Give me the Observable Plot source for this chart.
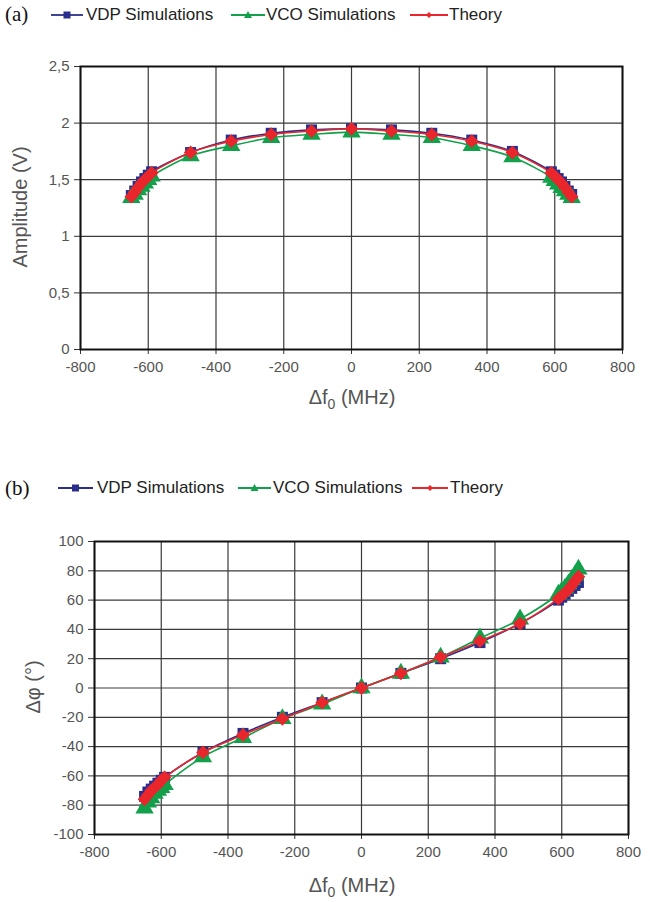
<!DOCTYPE html>
<html>
<head>
<meta charset="utf-8">
<script src="https://cdn.jsdelivr.net/npm/d3@7"></script>
<script src="https://cdn.jsdelivr.net/npm/@observablehq/plot@0.6"></script>
<style>
  html, body { margin: 0; padding: 0; background: #fff; }
  #page { position: relative; width: 650px; height: 902px; overflow: hidden; font-family: "Liberation Sans", Arial, sans-serif; }
  .panel { position: absolute; left: 0; font-family: "Liberation Serif", "Times New Roman", serif; font-size: 21px; color: #111; }
  .leg { position: absolute; font-size: 17px; color: #222; white-space: nowrap; line-height: 20px; }
  .sw { position: absolute; }
  .chart { position: absolute; left: 0; }
</style>
</head>
<body>
<div id="page"></div>
<script>
// ---------- data ----------
const seriesNames = ["VDP Simulations", "VCO Simulations", "Theory"];
const deltaF = [-650, -640, -630, -620, -610, -600, -590, -475, -355, -237, -118, 0, 118, 237, 355, 475, 590, 600, 610, 620, 630, 640, 650];

const ampVDP    = [1.36, 1.40, 1.44, 1.48, 1.51, 1.54, 1.57, 1.74, 1.85, 1.91, 1.94, 1.95, 1.94, 1.91, 1.85, 1.75, 1.57, 1.54, 1.51, 1.48, 1.44, 1.40, 1.37];
const ampVCO    = [1.34, 1.37, 1.41, 1.44, 1.47, 1.50, 1.53, 1.71, 1.80, 1.87, 1.90, 1.92, 1.90, 1.87, 1.80, 1.70, 1.52, 1.49, 1.46, 1.43, 1.40, 1.37, 1.34];
const ampTheory = [1.35, 1.39, 1.43, 1.47, 1.50, 1.53, 1.56, 1.74, 1.84, 1.90, 1.93, 1.95, 1.93, 1.90, 1.84, 1.74, 1.56, 1.53, 1.50, 1.47, 1.43, 1.39, 1.35];

const phVDP    = [-74, -71, -69, -67, -65, -63, -61, -44, -31, -20, -10, 0, 10, 20, 31, 44, 60, 62, 64, 66, 68, 70, 72];
const phVCO    = [-82, -78, -75, -72, -70, -68, -66, -47, -34, -21, -11, 0, 10, 21, 34, 47, 64, 66, 68, 71, 74, 77, 81];
const phTheory = [-76, -73, -70, -68, -66, -63, -61, -44, -32, -21, -10, 0, 10, 21, 32, 44, 61, 63, 65, 67, 70, 73, 76];

const xTicks = [-800, -600, -400, -200, 0, 200, 400, 600, 800];
const ampTicks = [0, 0.5, 1, 1.5, 2, 2.5];
const phTicks = [-100, -80, -60, -40, -20, 0, 20, 40, 60, 80, 100];

// ---------- styles ----------
const colors = ["#2b2e8c", "#12a04a", "#e8262b"];
const symbols = ["square", "triangle", "diamond2"];
const radii = [6.2, 6.8, 6.2];

const page = document.getElementById("page");

function toRows(ys) { return deltaF.map((x, i) => ({x, y: ys[i]})); }

function legend(top, items) {
  items.forEach((it, i) => {
    const sw = document.createElementNS("http://www.w3.org/2000/svg", "svg");
    sw.setAttribute("class", "sw");
    sw.setAttribute("width", it.w);
    sw.setAttribute("height", 16);
    sw.style.left = it.x + "px";
    sw.style.top = (top - 8) + "px";
    const c = colors[i], m = it.w / 2;
    let marker;
    if (i === 0) marker = `<rect x="${m-3.5}" y="4.5" width="7" height="7" fill="${c}"/>`;
    else if (i === 1) marker = `<path d="M${m},4 L${m+4},11 L${m-4},11 Z" fill="${c}"/>`;
    else marker = `<path d="M${m},5 L${m+3},8 L${m},11 L${m-3},8 Z" fill="${c}"/>`;
    sw.innerHTML = `<line x1="0" x2="${it.w}" y1="8" y2="8" stroke="${c}" stroke-width="1.8"/>` + marker;
    page.appendChild(sw);
    const t = document.createElement("div");
    t.className = "leg";
    t.textContent = seriesNames[i];
    t.style.left = it.tx + "px";
    t.style.top = (top - 10) + "px";
    page.appendChild(t);
  });
}

function panelLabel(text, top) {
  const d = document.createElement("div");
  d.className = "panel";
  d.textContent = text;
  d.style.left = "5px";
  d.style.top = top + "px";
  page.appendChild(d);
}

function chart({top, height, margins, yDomain, yTicks, yFmt, series}) {
  const marks = [
    Plot.gridX(xTicks, {stroke: "#3a3a3a", strokeOpacity: 1, strokeWidth: 1.2}),
    Plot.gridY(yTicks, {stroke: "#3a3a3a", strokeOpacity: 1, strokeWidth: 1.2}),
    Plot.axisX(xTicks, {label: null, tickSize: 5, tickPadding: 7, fontSize: 15, fill: "#555", stroke: "#333", tickFormat: d => String(d)}),
    Plot.axisY(yTicks, {label: null, tickSize: 6, tickPadding: 5, fontSize: 15, fill: "#555", stroke: "#333", tickFormat: yFmt}),
  ];
  series.forEach((ys, i) => {
    const rows = toRows(ys);
    marks.push(Plot.line(rows, {x: "x", y: "y", stroke: colors[i], strokeWidth: 1.6, curve: "catmull-rom"}));
    marks.push(Plot.dot(rows, {x: "x", y: "y", symbol: symbols[i], r: radii[i], fill: colors[i], stroke: "none"}));
  });
  marks.push(Plot.frame({stroke: "#111", strokeWidth: 2}));
  const svg = Plot.plot({
    width: 650, height,
    marginTop: margins[0], marginRight: margins[1], marginBottom: margins[2], marginLeft: margins[3],
    x: {type: "linear", domain: [-800, 800]},
    y: {type: "linear", domain: yDomain},
    style: {fontFamily: "'Liberation Sans', Arial, sans-serif", background: "transparent", overflow: "visible"},
    marks
  });
  svg.setAttribute("class", "chart");
  svg.style.top = top + "px";
  page.appendChild(svg);
  return svg;
}

function xLabel(svg, x, y) {
  const t = d3.select(svg).append("text")
    .attr("x", x).attr("y", y).attr("text-anchor", "middle")
    .attr("font-size", 20).attr("fill", "#555")
    .attr("font-family", "'Liberation Sans', Arial, sans-serif");
  t.append("tspan").text("Δf");
  t.append("tspan").attr("font-size", 14).attr("dy", 5).text("0");
  t.append("tspan").attr("dy", -5).text(" (MHz)");
}
function yLabel(svg, x, y, text) {
  d3.select(svg).append("text")
    .attr("transform", `translate(${x},${y}) rotate(-90)`)
    .attr("text-anchor", "middle")
    .attr("font-size", 20).attr("fill", "#555")
    .attr("font-family", "'Liberation Sans', Arial, sans-serif")
    .text(text);
}

// ---------- panel (a) ----------
panelLabel("(a)", 2);
legend(15, [{x: 51, w: 32, tx: 86}, {x: 231, w: 34, tx: 266}, {x: 410, w: 38, tx: 449}]);
const svgA = chart({
  top: 50, height: 370, margins: [16, 28, 71, 80],
  yDomain: [0, 2.5], yTicks: ampTicks,
  yFmt: d => String(d).replace(".", ","),
  series: [ampVDP, ampVCO, ampTheory]
});
xLabel(svgA, 352, 354);
yLabel(svgA, 27, 157, "Amplitude (V)");

// ---------- panel (b) ----------
panelLabel("(b)", 476);
legend(488, [{x: 58, w: 35, tx: 97}, {x: 238, w: 33, tx: 273}, {x: 412, w: 36, tx: 450}]);
const svgB = chart({
  top: 520, height: 382, margins: [21, 22, 68, 94],
  yDomain: [-100, 100], yTicks: phTicks,
  yFmt: d => String(d),
  series: [phVDP, phVCO, phTheory]
});
xLabel(svgB, 352, 372);
yLabel(svgB, 40, 167, "Δφ (°)");
</script>
</body>
</html>
